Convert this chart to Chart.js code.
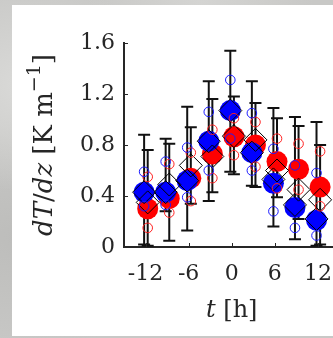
<!DOCTYPE html>
<html><head><meta charset="utf-8">
<script src="https://cdn.jsdelivr.net/npm/chart.js@4.4.1/dist/chart.umd.min.js"></script>
<style>
html,body{margin:0;padding:0;width:333px;height:338px;overflow:hidden;background:#c8c8c6;}
body{background-image:radial-gradient(ellipse at 8% 25%,#dadad8 0,rgba(200,200,198,0) 30%),radial-gradient(ellipse at 5% 70%,#bdbdbb 0,rgba(200,200,198,0) 35%),radial-gradient(ellipse at 60% 0%,#d4d4d2 0,rgba(200,200,198,0) 40%);}
#panel{position:absolute;left:12px;top:5px;width:321px;height:331px;background:#fff;overflow:hidden;}
canvas{position:absolute;left:0;top:0;}
</style></head><body>
<div id="panel"><canvas id="c" width="340" height="331"></canvas></div>
<script>
// ---- data ----
const times = [-12, -9, -6, -3, 0, 3, 6, 9, 12];
const xTickValues = [-12, -6, 0, 6, 12];
const xTickLabels = ['-12', '-6', '0', '6', '12'];
const yTickValues = [0, 0.4, 0.8, 1.2, 1.6];
const yTickLabels = ['0', '0.4', '0.8', '1.2', '1.6'];

const blueMean = [0.43, 0.43, 0.52, 0.83, 1.07, 0.74, 0.50, 0.31, 0.21];
const redMean  = [0.30, 0.38, 0.54, 0.73, 0.865, 0.80, 0.67, 0.61, 0.47];
const blueMedian = [0.43, 0.43, 0.52, 0.83, 1.07, 0.74, 0.53, 0.33, 0.22];
const redMedian  = [0.35, 0.49, 0.64, 0.71, 0.87, 0.84, 0.60, 0.45, 0.37];
const blueUpperQ = [0.59, 0.67, 0.78, 1.06, 1.31, 1.05, 0.77, 0.64, 0.58];
const blueLowerQ = [0.32, 0.33, 0.39, 0.60, 0.85, 0.60, 0.28, 0.15, 0.09];
const redUpperQ  = [0.55, 0.65, 0.74, 0.92, 1.01, 0.98, 0.85, 0.81, 0.75];
const redLowerQ  = [0.15, 0.27, 0.36, 0.54, 0.72, 0.63, 0.46, 0.45, 0.32];
const blueErrLow  = [0.02, 0.28, 0.13, 0.36, 0.59, 0.48, 0.16, 0.06, 0.01];
const blueErrHigh = [0.88, 0.85, 1.10, 1.30, 1.54, 1.30, 1.09, 1.02, 0.98];
const redErrLow   = [0.01, 0.05, 0.34, 0.43, 0.57, 0.47, 0.39, 0.22, 0.02];
const redErrHigh  = [0.76, 0.81, 0.94, 1.16, 1.18, 1.13, 1.01, 0.95, 0.80];

// ---- styling constants ----
const BLUE_SHIFT = -0.2, RED_SHIFT = 0.3;
const FONT = '"DejaVu Serif", "Liberation Serif", serif';
const INK = '#262626';

const pts = (vals, shift) => times.map((t, i) => ({x: t + shift, y: vals[i]}));

const errorBars = {
  id: 'errorBars',
  beforeDatasetsDraw(chart) {
    const {ctx, scales: {x, y}} = chart;
    ctx.save();
    ctx.strokeStyle = '#111';
    ctx.lineWidth = 2;
    const draw = (lo, hi, shift) => {
      times.forEach((t, i) => {
        const px = x.getPixelForValue(t + shift);
        const p1 = y.getPixelForValue(lo[i]);
        const p2 = y.getPixelForValue(hi[i]);
        ctx.beginPath();
        ctx.moveTo(px, p1); ctx.lineTo(px, p2);
        ctx.moveTo(px - 6, p1); ctx.lineTo(px + 6, p1);
        ctx.moveTo(px - 6, p2); ctx.lineTo(px + 6, p2);
        ctx.stroke();
      });
    };
    draw(blueErrLow, blueErrHigh, BLUE_SHIFT);
    draw(redErrLow, redErrHigh, RED_SHIFT);
    ctx.restore();
  }
};

const decor = {
  id: 'decor',
  afterDraw(chart) {
    const {ctx, scales: {x, y}, chartArea} = chart;
    ctx.save();
    ctx.strokeStyle = INK; ctx.lineWidth = 1;
    ctx.beginPath();
    yTickValues.forEach(v => { if (v === 0) return; const py = Math.round(y.getPixelForValue(v)) + 0.5; ctx.moveTo(chartArea.left, py); ctx.lineTo(chartArea.left + 4, py); });
    xTickValues.forEach(v => { const px = Math.round(x.getPixelForValue(v)) + 0.5; ctx.moveTo(px, chartArea.bottom); ctx.lineTo(px, chartArea.bottom - 4); });
    ctx.stroke();
    ctx.restore();

    // y title: dT/dz [K m^-1]
    ctx.save();
    ctx.fillStyle = INK;
    ctx.textBaseline = 'alphabetic';
    const size = 26;
    const segs = [
      {t: 'dT', f: 'italic ' + size + 'px ' + FONT, dy: 0},
      {t: '/', f: size + 'px ' + FONT, dy: 0},
      {t: 'dz', f: 'italic ' + size + 'px ' + FONT, dy: 0},
      {t: ' [K m', f: size + 'px ' + FONT, dy: 0},
      {t: '\u22121', f: Math.round(size * 0.72) + 'px ' + FONT, dy: -12},
      {t: ']', f: size + 'px ' + FONT, dy: 0}
    ];
    let total = 0;
    segs.forEach(s => { ctx.font = s.f; s.w = ctx.measureText(s.t).width; total += s.w; });
    const midY = (chartArea.top + chartArea.bottom) / 2;
    ctx.translate(chartArea.left - 72, midY + total / 2);
    ctx.rotate(-Math.PI / 2);
    let cx = 0;
    segs.forEach(s => { ctx.font = s.f; ctx.fillText(s.t, cx, s.dy); cx += s.w; });
    ctx.restore();

    // x title: t [h]
    ctx.save();
    ctx.fillStyle = INK;
    ctx.textBaseline = 'alphabetic';
    const xs = [
      {t: 't', f: 'italic 24px ' + FONT},
      {t: ' [h]', f: '24px ' + FONT}
    ];
    let tw = 0;
    xs.forEach(s => { ctx.font = s.f; s.w = ctx.measureText(s.t).width; tw += s.w; });
    let sx = x.getPixelForValue(0) - tw / 2;
    const by = chartArea.bottom + 70;
    xs.forEach(s => { ctx.font = s.f; ctx.fillText(s.t, sx, by); sx += s.w; });
    ctx.restore();
  }
};

new Chart(document.getElementById('c'), {
  type: 'scatter',
  data: {
    datasets: [
      {label: 'blue upper', data: pts(blueUpperQ, BLUE_SHIFT), pointStyle: 'circle', pointRadius: 4.8, borderColor: '#1a1aff', backgroundColor: 'rgba(0,0,0,0)', borderWidth: 1, order: 0},
      {label: 'blue lower', data: pts(blueLowerQ, BLUE_SHIFT), pointStyle: 'circle', pointRadius: 4.8, borderColor: '#1a1aff', backgroundColor: 'rgba(0,0,0,0)', borderWidth: 1, order: 0},
      {label: 'red upper', data: pts(redUpperQ, RED_SHIFT), pointStyle: 'circle', pointRadius: 4.8, borderColor: '#ff2020', backgroundColor: 'rgba(0,0,0,0)', borderWidth: 1, order: 0},
      {label: 'red lower', data: pts(redLowerQ, RED_SHIFT), pointStyle: 'circle', pointRadius: 4.8, borderColor: '#ff2020', backgroundColor: 'rgba(0,0,0,0)', borderWidth: 1, order: 0},
      {label: 'blue median', data: pts(blueMedian, BLUE_SHIFT), pointStyle: 'rectRot', pointRadius: 11.5, borderColor: '#000', backgroundColor: 'rgba(0,0,0,0)', borderWidth: 1, order: 1},
      {label: 'red median', data: pts(redMedian, RED_SHIFT), pointStyle: 'rectRot', pointRadius: 11.5, borderColor: '#000', backgroundColor: 'rgba(0,0,0,0)', borderWidth: 1, order: 1},
      {label: 'blue mean', data: pts(blueMean, BLUE_SHIFT), pointStyle: 'circle', pointRadius: 10.5, borderWidth: 0, backgroundColor: '#0000ff', borderColor: '#0000ff', order: 2},
      {label: 'red mean', data: pts(redMean, RED_SHIFT), pointStyle: 'circle', pointRadius: 10.5, borderWidth: 0, backgroundColor: '#ff0000', borderColor: '#ff0000', order: 3}
    ]
  },
  options: {
    responsive: false,
    animation: false,
    events: [],
    layout: {padding: {left: 0, right: 8, top: 38, bottom: 0}},
    plugins: {legend: {display: false}, tooltip: {enabled: false}},
    scales: {
      x: {
        type: 'linear', min: -15, max: 15,
        grid: {display: false, drawTicks: false},
        border: {display: true, color: INK, width: 2},
        afterBuildTicks: s => { s.ticks = xTickValues.map(v => ({value: v})); },
        afterFit: s => { s.height = 89; },
        ticks: {
          padding: 14, color: INK, font: {family: FONT, size: 22}, maxRotation: 0,
          callback: (v) => { const i = xTickValues.indexOf(v); return i >= 0 ? xTickLabels[i] : ''; }
        }
      },
      y: {
        type: 'linear', min: 0, max: 1.6,
        grid: {display: false, drawTicks: false},
        border: {display: true, color: INK, width: 2},
        afterBuildTicks: s => { s.ticks = yTickValues.map(v => ({value: v})); },
        afterFit: s => { s.width = 112; },
        ticks: {
          padding: 9, color: INK, font: {family: FONT, size: 22},
          callback: (v) => { const i = yTickValues.findIndex(t => Math.abs(t - v) < 1e-9); return i >= 0 ? yTickLabels[i] : ''; }
        }
      }
    }
  },
  plugins: [errorBars, decor]
});
</script>
</body></html>
